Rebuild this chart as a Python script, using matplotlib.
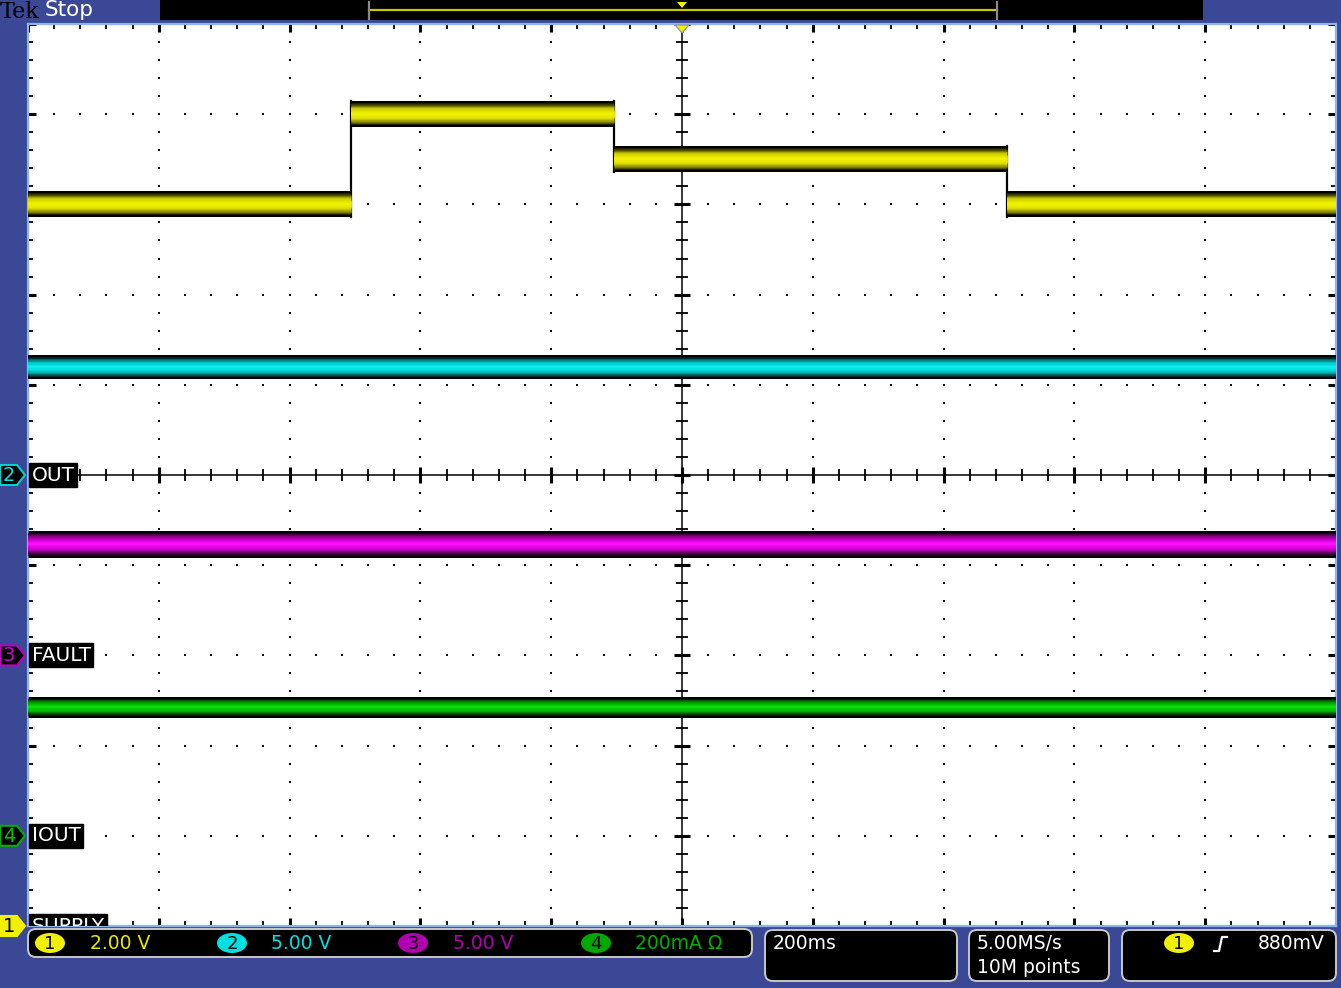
import numpy as np
import matplotlib
matplotlib.use("Agg")
import matplotlib.pyplot as plt
from matplotlib.patches import Rectangle, Polygon, Ellipse, FancyBboxPatch
from matplotlib.transforms import blended_transform_factory
from matplotlib.colors import to_rgb

# ---------------- data (read from the screen) ----------------
# time in seconds (200 ms/div, 10 div, trigger at centre)
supply_t = [-1.0, -0.506, -0.104, 0.497, 1.0]
supply_v = [16.0, 18.0, 17.0, 16.0]          # CH1 SUPPLY, volts
out_t = [-1.0, 1.0]
out_v = [6.0]                                 # CH2 OUT, volts
fault_t = [-1.0, 1.0]
fault_v = [6.2]                               # CH3 FAULT, volts
iout_t = [-1.0, 1.0]
iout_a = [0.285]                              # CH4 IOUT, amps

ch_names = ["SUPPLY", "OUT", "FAULT", "IOUT"]
ch_scale_text = ["2.00 V", "5.00 V", "5.00 V", "200mA \u03a9"]
ch_scale = [2.0, 5.0, 5.0, 0.2]               # units per division
ch_offset = [-5.0, 0.0, -2.0, -4.0]           # ground marker position (div)
timebase_text = "200ms"
sample_text = ["5.00MS/s", "10M points"]
trigger_text = "880mV"

# ---------------- style ----------------
W, H = 1341, 988
BG = "#3a4896"
fig = plt.figure(figsize=(W / 100, H / 100), dpi=100, facecolor=BG)

L, T, R, B = 28, 24, 1336, 926
ax = fig.add_axes([L / W, (H - B) / H, (R - L) / W, (B - T) / H])
ax.set_facecolor("white")
ax.set_xlim(-1.0, 1.0)
ax.set_ylim(-5, 5)
ax.set_xticks([]); ax.set_yticks([])
for s in ax.spines.values():
    s.set_color("#8db3ea"); s.set_linewidth(1.6)

PX = 0.72  # points per pixel

major_x = np.linspace(-1, 1, 11)
minor_x = np.linspace(-1, 1, 51)
major_y = np.linspace(-5, 5, 11)
minor_y = np.linspace(-5, 5, 51)

# dotted graticule
for yv in major_y[1:-1]:
    if abs(yv) > 1e-9:
        ax.plot(minor_x, np.full_like(minor_x, yv), ls="none", marker="s",
                ms=2.1, mew=0, color="black", zorder=1)
for xv in major_x[1:-1]:
    if abs(xv) > 1e-9:
        ax.plot(np.full_like(minor_y, xv), minor_y, ls="none", marker="s",
                ms=2.1, mew=0, color="black", zorder=1)

# centre cross with ticks
ax.axhline(0, color="black", lw=1.1, zorder=1)
ax.axvline(0, color="black", lw=1.1, zorder=1)
ax.plot(minor_x, np.zeros_like(minor_x), ls="none", marker="|", ms=8, mew=1.3, color="black", zorder=1)
ax.plot(major_x, np.zeros_like(major_x), ls="none", marker="|", ms=11, mew=2.2, color="black", zorder=1)
ax.plot(np.zeros_like(minor_y), minor_y, ls="none", marker="_", ms=8, mew=1.3, color="black", zorder=1)
ax.plot(np.zeros_like(major_y), major_y, ls="none", marker="_", ms=11, mew=2.2, color="black", zorder=1)

# border ticks
for yb in (-5, 5):
    ax.plot(minor_x, np.full_like(minor_x, yb), ls="none", marker="|", ms=7, mew=1.3, color="black", zorder=1)
    ax.plot(major_x, np.full_like(major_x, yb), ls="none", marker="|", ms=12, mew=2.2, color="black", zorder=1)
for xb in (-1, 1):
    ax.plot(np.full_like(minor_y, xb), minor_y, ls="none", marker="_", ms=7, mew=1.3, color="black", zorder=1)
    ax.plot(np.full_like(major_y, xb), major_y, ls="none", marker="_", ms=12, mew=2.2, color="black", zorder=1)


def gradient(stops, n):
    """interpolate colour stops (edge -> centre) into n layers"""
    rgb = np.array([to_rgb(c) for c in stops])
    pos = np.linspace(0, 1, len(stops))
    out = []
    for k in range(n):
        f = k / (n - 1)
        out.append(tuple(np.interp(f, pos, rgb[:, j]) for j in range(3)))
    return out


def draw_band(t, vals, scale, offset, stops, width_px, z, n=14):
    ys = [offset + v / scale for v in vals]
    cols = gradient(stops, n)
    widths = [width_px] + list(np.linspace(width_px - 4, 2, n - 1))
    cols = ["black"] + cols[1:]
    for i, y in enumerate(ys):
        for c, wpx in zip(cols, widths):
            ax.plot([t[i], t[i + 1]], [y, y], color=c, lw=wpx * PX,
                    solid_capstyle="butt", zorder=z)
    for i in range(len(ys) - 1):
        half = width_px / 2 / 90.2
        lo, hi = sorted([ys[i], ys[i + 1]])
        ax.plot([t[i + 1], t[i + 1]], [lo - half, hi + half], color="black",
                lw=1.6, zorder=z - 0.5)


draw_band(supply_t, supply_v, ch_scale[0], ch_offset[0],
          ["#000000", "#4a4a00", "#9a9a00", "#d2d200", "#e6e600", "#f0f000"], 26, 4)
draw_band(out_t, out_v, ch_scale[1], ch_offset[1],
          ["#000000", "#004444", "#008c8c", "#00c4c4", "#00dcdc", "#10eaea"], 24, 4)
draw_band(fault_t, fault_v, ch_scale[2], ch_offset[2],
          ["#000000", "#440044", "#8c008c", "#c800c8", "#e600e6", "#ff10ff"], 27, 4)
draw_band(iout_t, iout_a, ch_scale[3], ch_offset[3],
          ["#000000", "#003c00", "#007c00", "#00b000", "#00c800", "#10d810"], 21, 4, n=11)

# channel labels inside graticule
tr = blended_transform_factory(ax.transAxes, ax.transData)
for name, off in zip(ch_names, ch_offset):
    ax.text(3.5 / (R - L), off, name, transform=tr, color="white", fontsize=14.5,
            family="DejaVu Sans", va="center", ha="left", zorder=6, clip_on=True,
            bbox=dict(boxstyle="square,pad=0.12", fc="black", ec="black"))

# ---------------- overlay in pixel coordinates ----------------
ov = fig.add_axes([0, 0, 1, 1], zorder=5)
ov.set_xlim(0, W); ov.set_ylim(H, 0)
ov.axis("off")
ov.patch.set_alpha(0)

# header
ov.add_patch(Rectangle((160, 0), 1043, 20, fc="black", ec="none"))
ov.plot([369, 997], [10, 10], color="#c8c800", lw=1.6)
ov.plot([369, 369], [2, 19], color="#8a8a8a", lw=1.6)
ov.plot([997, 997], [2, 19], color="#8a8a8a", lw=1.6)
ov.add_patch(Polygon([(677, 2), (687, 2), (682, 8)], closed=True, fc="#f0f000", ec="none"))
ov.text(0, 12, "Tek", color="black", fontsize=16, family="DejaVu Serif",
        va="center", ha="left")
ov.text(45, 10, "Stop", color="white", fontsize=15.5, family="DejaVu Sans", va="center", ha="left")

# trigger position marker
ov.add_patch(Polygon([(675, 25), (689, 25), (682, 33)], closed=True, fc="#f0f000", ec="#909090", lw=0.8))

# left ground markers
marker_style = [("#f0f000", "#f0f000", "black"), ("black", "#00d0d0", "#00e0e0"),
                ("black", "#c000c0", "#d000d0"), ("black", "#00b000", "#00c000")]
px_per_div = (B - T) / 10.0
center_y = (T + B) / 2.0
for i, off in enumerate(ch_offset):
    yc = center_y - off * px_per_div
    fc, ec, tc = marker_style[i]
    ov.add_patch(Polygon([(0, yc - 10), (17, yc - 10), (25, yc), (17, yc + 10), (0, yc + 10)],
                         closed=True, fc=fc, ec=ec, lw=1.5))
    ov.text(9, yc + 0.5, str(i + 1), color=tc, fontsize=14, family="DejaVu Sans",
            va="center", ha="center")

# status bar boxes
def box(x0, y0, x1, y1):
    ov.add_patch(FancyBboxPatch((x0, y0), x1 - x0, y1 - y0,
                                boxstyle="round,pad=0,rounding_size=8",
                                fc="black", ec="#c8c8c8", lw=1.4))

box(28, 929, 752, 957)
box(765, 930, 957, 981)
box(969, 930, 1109, 981)
box(1122, 930, 1336, 981)

ell_colors = ["#f0f000", "#00e0e0", "#b000b0", "#00a800"]
txt_colors = ["#e8e800", "#00e0e0", "#b000b0", "#00b000"]
ell_x = [50, 232, 413, 596]
txt_x = [90, 271, 453, 635]
for i in range(4):
    ov.add_patch(Ellipse((ell_x[i], 943), 30, 20, fc=ell_colors[i], ec="none"))
    ov.text(ell_x[i], 943.5, str(i + 1), color="black", fontsize=13, family="DejaVu Sans",
            va="center", ha="center")
    ov.text(txt_x[i], 943.5, ch_scale_text[i], color=txt_colors[i], fontsize=13.5,
            family="DejaVu Sans", va="center", ha="left")

ov.text(773, 943.5, timebase_text, color="white", fontsize=13.5, family="DejaVu Sans",
        va="center", ha="left")
ov.text(977, 943.5, sample_text[0], color="white", fontsize=13.5, family="DejaVu Sans",
        va="center", ha="left")
ov.text(977, 967.5, sample_text[1], color="white", fontsize=13.5, family="DejaVu Sans",
        va="center", ha="left")
ov.add_patch(Ellipse((1179, 943), 30, 20, fc="#f0f000", ec="none"))
ov.text(1179, 943.5, "1", color="black", fontsize=13, family="DejaVu Sans", va="center", ha="center")
ov.plot([1214, 1219, 1222, 1227], [951, 951, 937, 937], color="white", lw=1.6)
ov.text(1325, 943.5, trigger_text, color="white", fontsize=13.5, family="DejaVu Sans",
        va="center", ha="right")

fig.savefig("out.png", dpi=100, facecolor=BG)
